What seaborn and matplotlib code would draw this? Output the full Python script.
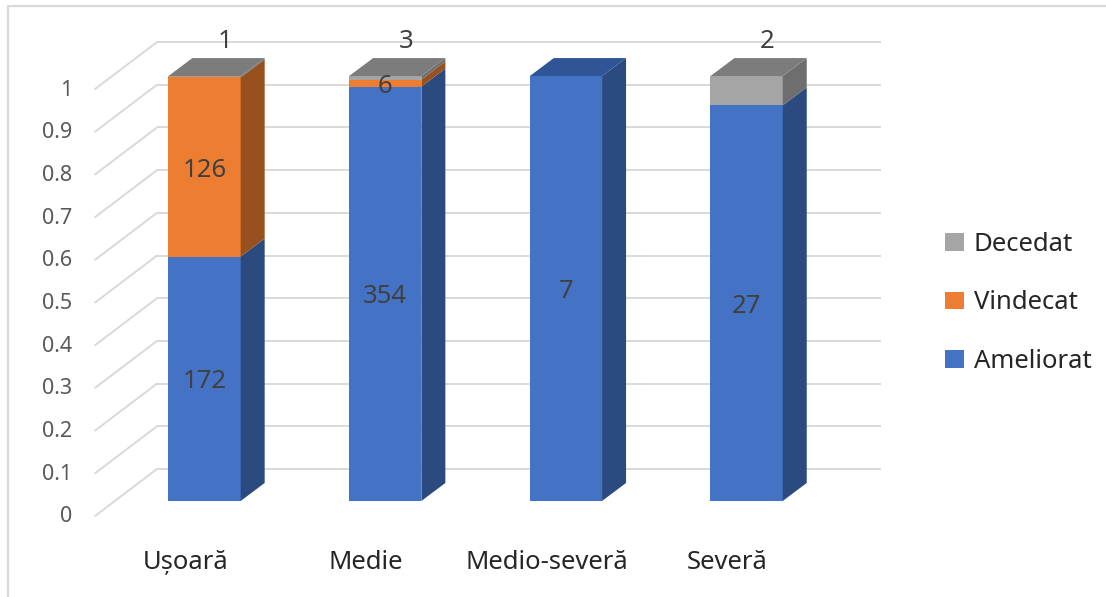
import numpy as np
import pandas as pd
import matplotlib
matplotlib.use("Agg")
import matplotlib.pyplot as plt
from matplotlib.patches import Polygon, Patch
from matplotlib.lines import Line2D
import seaborn as sns

# ---- data -------------------------------------------------------------
categories = ["Ușoară", "Medie", "Medio-severă", "Severă"]
ameliorat = [172, 354, 7, 27]
vindecat = [126, 6, 0, 0]
decedat = [1, 3, 0, 2]
series_names = ["Ameliorat", "Vindecat", "Decedat"]
y_ticks = [0, 0.1, 0.2, 0.3, 0.4, 0.5, 0.6, 0.7, 0.8, 0.9, 1]
y_tick_labels = ["0", "0.1", "0.2", "0.3", "0.4", "0.5", "0.6", "0.7", "0.8", "0.9", "1"]

# ---- styling ----------------------------------------------------------
sns.set_theme(style="white")
plt.rcParams["font.family"] = ["Noto Sans", "DejaVu Sans"]

front_cols = {"Ameliorat": "#4472C4", "Vindecat": "#ED7D31", "Decedat": "#A5A5A5"}
side_cols = {"Ameliorat": "#2A4A80", "Vindecat": "#98501E", "Decedat": "#6E6E6E"}
top_cols = {"Ameliorat": "#2F5597", "Vindecat": "#B0601F", "Decedat": "#7C7C7C"}
grid_col = "#D9D9D9"
text_col = "#404040"
tick_col = "#595959"

# 100% stacked shares
counts = pd.DataFrame({"Ameliorat": ameliorat, "Vindecat": vindecat, "Decedat": decedat},
                      index=categories)
totals = counts.sum(axis=1)
shares = counts.div(totals, axis=0)
cum_top = shares.cumsum(axis=1)
cum_bottom = cum_top - shares

W, H = 1106, 597
fig = plt.figure(figsize=(W / 100, H / 100), dpi=100)
ax = fig.add_axes([0, 0, 1, 1])

# front faces: draw cumulative layers from the top series down
for name in reversed(series_names):
    sns.barplot(x=categories, y=cum_top[name].values, color=front_cols[name],
                width=0.4, saturation=1, errorbar=None, linewidth=0,
                ax=ax, zorder=3)

# axis frame in data units (category spacing, share units)
ax.set_xlim(-1.132, 4.989)
ax.set_ylim(-0.226, 1.179)
ax.set_axis_off()

p0 = ax.transData.transform((0, 0))
p1 = ax.transData.transform((1, 1))
sx, sy = p1[0] - p0[0], p1[1] - p0[1]

def px_x(d):
    return d / sx

def px_y(d):
    return d / sy

# bar depth
ddx, ddy = px_x(24), px_y(18)
half = 0.2

# ---- walls and floor guides ------------------------------------------
wall_x0, wall_x1 = -0.263, 3.744
edge_x = -0.606
for v, lab in zip(y_ticks, y_tick_labels):
    yb = v + px_y(32 + 2 * v)
    yf = v - px_y(15 - 2 * v)
    ax.plot([wall_x0, wall_x1], [yb, yb], color=grid_col, lw=1.4, zorder=1,
            solid_capstyle="butt")
    ax.plot([edge_x, wall_x0], [yf, yb], color=grid_col, lw=1.4, zorder=1)
    ax.text(edge_x - px_x(23), yf - px_y(1), lab, ha="right", va="center",
            fontsize=15.5, color=tick_col)

# ---- side and top faces ----------------------------------------------
for i, cat in enumerate(categories):
    xl, xr = i - half, i + half
    top_series = None
    for name in series_names:
        b, t = cum_bottom.loc[cat, name], cum_top.loc[cat, name]
        if t - b <= 0:
            continue
        top_series = name
        side = Polygon([(xr, b), (xr + ddx, b + ddy), (xr + ddx, t + ddy), (xr, t)],
                       closed=True, facecolor=side_cols[name], edgecolor="none",
                       zorder=3)
        ax.add_patch(side)
    t = cum_top.loc[cat].max()
    top = Polygon([(xl, t), (xr, t), (xr + ddx, t + ddy), (xl + ddx, t + ddy)],
                  closed=True, facecolor=top_cols[top_series], edgecolor="none",
                  zorder=3)
    ax.add_patch(top)

# ---- data labels ------------------------------------------------------
lab_size = 18.5
for i, cat in enumerate(categories):
    for name in ["Ameliorat", "Vindecat"]:
        n = counts.loc[cat, name]
        if n > 0:
            mid = (cum_bottom.loc[cat, name] + cum_top.loc[cat, name]) / 2
            ax.text(i, mid - px_y(3), str(n), ha="center", va="center",
                    fontsize=lab_size, color=text_col, zorder=5)
    n = counts.loc[cat, "Decedat"]
    if n > 0:
        ax.text(i + px_x(21), 1 + px_y(35), str(n), ha="center", va="center",
                fontsize=lab_size, color=text_col, zorder=5)

# ---- category labels --------------------------------------------------
for i, cat in enumerate(categories):
    ax.text(i - px_x(19), -px_y(62), cat, ha="center", va="center",
            fontsize=18.5, color="#262626")

# ---- legend -----------------------------------------------------------
handles = [Patch(facecolor=front_cols[n], edgecolor="none", label=n)
           for n in reversed(series_names)]
fig.legend(handles=handles, loc="center left",
           bbox_to_anchor=(945 / W, (H - 303) / H), frameon=False,
           fontsize=18.5, handlelength=0.72, handleheight=0.68,
           handletextpad=0.4, labelspacing=1.3, borderpad=0,
           borderaxespad=0, labelcolor="#262626")

# chart-area border
fig.add_artist(Line2D([8 / W, 8 / W], [0, (H - 6) / H], color=grid_col, lw=1.6))
fig.add_artist(Line2D([8 / W, 1], [(H - 6) / H, (H - 6) / H], color=grid_col, lw=1.6))

fig.savefig("out.png", dpi=100, facecolor="white")
